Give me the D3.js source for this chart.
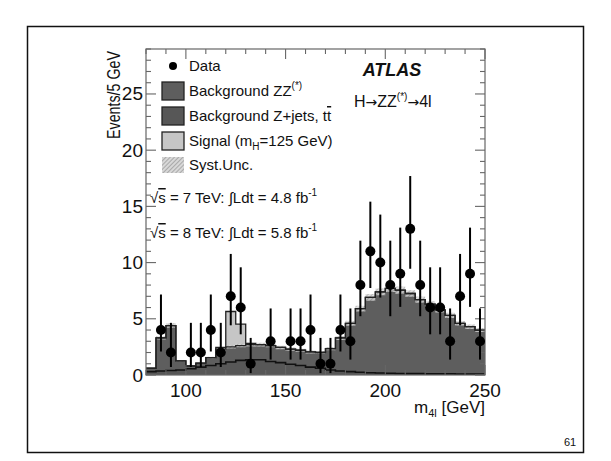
<!DOCTYPE html>
<html>
<head>
<meta charset="utf-8">
<script src="https://cdn.jsdelivr.net/npm/d3@7"></script>
<style>
  body { margin: 0; background: #fff; }
  text { font-family: "Liberation Sans", Arial, Helvetica, sans-serif; fill: #111; }
</style>
</head>
<body>
<script>
const width = 611
const height = 461
const binW = 5

// 5 GeV bin centres, 80-250 GeV
const massBins = [82.5, 87.5, 92.5, 97.5, 102.5, 107.5, 112.5, 117.5, 122.5, 127.5,
  132.5, 137.5, 142.5, 147.5, 152.5, 157.5, 162.5, 167.5, 172.5, 177.5,
  182.5, 187.5, 192.5, 197.5, 202.5, 207.5, 212.5, 217.5, 222.5, 227.5,
  232.5, 237.5, 242.5, 247.5]

// background Z+jets, ttbar (bottom of the stack)
const zjetsBkg = [0.3, 0.35, 0.4, 0.45, 0.55, 0.7, 0.85, 1.0, 1.15, 1.3,
  1.35, 1.35, 1.2, 1.1, 0.95, 0.85, 0.7, 0.6, 0.45, 0.35,
  0.3, 0.25, 0.2, 0.18, 0.15, 0.14, 0.12, 0.12, 0.1, 0.1,
  0.1, 0.08, 0.08, 0.08]

// background ZZ(*)
const zzBkg = [0.3, 2.95, 4.0, 0.8, 0.25, 0.35, 0.7, 1.3, 1.35, 1.32,
  1.35, 1.35, 1.42, 1.35, 1.35, 1.35, 1.35, 1.4, 1.9, 2.95,
  4.3, 5.65, 6.7, 7.22, 7.55, 7.41, 7.13, 6.58, 6.2, 5.7,
  5.2, 4.52, 4.22, 3.92]

// signal mH = 125 GeV
const signal = [0, 0, 0, 0, 0, 0, 0, 0.15, 3.15, 1.9,
  0.1, 0, 0, 0, 0, 0, 0, 0, 0, 0,
  0, 0, 0, 0, 0, 0, 0, 0, 0, 0,
  0, 0, 0, 0]

// systematic uncertainty on the total background
const bkgSyst = [0.05, 0.15, 0.2, 0.08, 0.05, 0.06, 0.08, 0.12, 0.15, 0.16,
  0.17, 0.17, 0.16, 0.15, 0.15, 0.14, 0.13, 0.13, 0.15, 0.18,
  0.22, 0.26, 0.3, 0.3, 0.32, 0.32, 0.3, 0.28, 0.26, 0.25,
  0.23, 0.2, 0.2, 0.18]

// data (bins with events only)
const dataMass = [87.5, 92.5, 102.5, 107.5, 112.5, 117.5, 122.5, 127.5, 132.5, 142.5,
  152.5, 157.5, 162.5, 167.5, 172.5, 177.5, 182.5, 187.5, 192.5, 197.5,
  202.5, 207.5, 212.5, 217.5, 222.5, 227.5, 232.5, 237.5, 242.5, 247.5]
const dataCounts = [4, 2, 2, 2, 4, 2, 7, 6, 1, 3,
  3, 3, 4, 1, 1, 4, 3, 8, 11, 10,
  8, 9, 13, 8, 6, 6, 3, 7, 9, 3]
const dataErrLow = [2.09, 0.71, 0.71, 0.71, 2.09, 0.71, 4.42, 3.62, 0.17, 1.37,
  1.37, 1.37, 2.09, 0.17, 0.17, 2.09, 1.37, 5.23, 7.74, 6.89,
  5.23, 6.06, 9.45, 5.23, 3.62, 3.62, 1.37, 4.42, 6.06, 1.37]
const dataErrHigh = [7.16, 4.64, 4.64, 4.64, 7.16, 4.64, 10.77, 9.58, 3.30, 5.92,
  5.92, 5.92, 7.16, 3.30, 3.30, 7.16, 5.92, 11.95, 15.42, 14.27,
  11.95, 13.11, 17.70, 11.95, 9.58, 9.58, 5.92, 10.77, 13.11, 5.92]

const xMajor = [100, 150, 200, 250]
const yMajor = [0, 5, 10, 15, 20, 25]

const plot = { left: 146, right: 485, top: 49, bottom: 375 }

const x = d3.scaleLinear().domain([80, 250]).range([plot.left, plot.right])
const y = d3.scaleLinear().domain([0, 29]).range([plot.bottom, plot.top])

const svg = d3.select("body").append("svg")
  .attr("width", width)
  .attr("height", height)

// slide frame
svg.append("rect")
  .attr("x", 27.5).attr("y", 26.5)
  .attr("width", 556).attr("height", 426)
  .attr("fill", "none").attr("stroke", "#111").attr("stroke-width", 1.5)

svg.append("text")
  .attr("x", 570).attr("y", 446)
  .attr("text-anchor", "middle")
  .attr("font-size", 11)
  .text("61")

const defs = svg.append("defs")
defs.append("clipPath").attr("id", "plot-clip")
  .append("rect")
  .attr("x", plot.left).attr("y", plot.top)
  .attr("width", plot.right - plot.left).attr("height", plot.bottom - plot.top)

const hatch = defs.append("pattern")
  .attr("id", "hatch")
  .attr("patternUnits", "userSpaceOnUse")
  .attr("width", 3).attr("height", 3)
  .attr("patternTransform", "rotate(45)")
hatch.append("rect").attr("width", 3).attr("height", 3).attr("fill", "#d8d8d8")
hatch.append("line")
  .attr("x1", 0).attr("y1", 0).attr("x2", 0).attr("y2", 3)
  .attr("stroke", "#8a8a8a").attr("stroke-width", 1.2)

// stacked bins
const stack = massBins.map((m, i) => {
  const zj = zjetsBkg[i]
  const tot = zj + zzBkg[i]
  return { x0: m - binW / 2, zj: zj, tot: tot, sig: tot + signal[i], syst: bkgSyst[i] }
})
const last = stack[stack.length - 1]
stack.push(Object.assign({}, last, { x0: 250 }))

const g = svg.append("g").attr("clip-path", "url(#plot-clip)")

const stepArea = (lo, hi) => d3.area().curve(d3.curveStepAfter)
  .x(d => x(d.x0)).y0(d => y(lo(d))).y1(d => y(hi(d)))
const stepLine = (v) => d3.line().curve(d3.curveStepAfter)
  .x(d => x(d.x0)).y(d => y(v(d)))

// signal on top
g.append("path").attr("d", stepArea(d => d.tot, d => d.sig)(stack))
  .attr("fill", "#c6c6c6")
// ZZ
g.append("path").attr("d", stepArea(d => d.zj, d => d.tot)(stack))
  .attr("fill", "#5e5e5e")
// Z+jets
g.append("path").attr("d", stepArea(d => 0, d => d.zj)(stack))
  .attr("fill", "#575757")
// syst band
g.append("path").attr("d", stepArea(d => d.tot - d.syst, d => d.tot + d.syst)(stack))
  .attr("fill", "url(#hatch)").attr("opacity", 0.8)

g.append("path").attr("d", stepLine(d => d.sig)(stack))
  .attr("fill", "none").attr("stroke", "#222").attr("stroke-width", 1.3)
g.append("path").attr("d", stepLine(d => d.tot)(stack))
  .attr("fill", "none").attr("stroke", "#222").attr("stroke-width", 1.3)
g.append("path").attr("d", stepLine(d => d.zj)(stack))
  .attr("fill", "none").attr("stroke", "#111").attr("stroke-width", 1.6)

// axes frame and ticks (ROOT style, inward on all four sides)
const axisColor = "#666"
svg.append("rect")
  .attr("x", plot.left).attr("y", plot.top)
  .attr("width", plot.right - plot.left).attr("height", plot.bottom - plot.top)
  .attr("fill", "none").attr("stroke", axisColor).attr("stroke-width", 1.2)

const yTicks = d3.range(0, 30)
const xTicks = d3.range(80, 251, 10)
const ticks = svg.append("g").attr("stroke", axisColor).attr("stroke-width", 1.1)
yTicks.forEach(v => {
  const len = v % 5 === 0 ? 10 : 5
  ticks.append("line").attr("x1", plot.left).attr("x2", plot.left + len)
    .attr("y1", y(v)).attr("y2", y(v))
  ticks.append("line").attr("x1", plot.right).attr("x2", plot.right - len)
    .attr("y1", y(v)).attr("y2", y(v))
})
xTicks.forEach(v => {
  const len = v % 50 === 0 ? 10 : 5
  ticks.append("line").attr("x1", x(v)).attr("x2", x(v))
    .attr("y1", plot.bottom).attr("y2", plot.bottom - len)
  ticks.append("line").attr("x1", x(v)).attr("x2", x(v))
    .attr("y1", plot.top).attr("y2", plot.top + len)
})

svg.append("g").selectAll("text")
  .data(yMajor).enter().append("text")
  .attr("x", plot.left - 3)
  .attr("y", d => y(d) + 6.5)
  .attr("text-anchor", "end")
  .attr("font-size", 19)
  .text(d => d)

svg.append("g").selectAll("text")
  .data(xMajor).enter().append("text")
  .attr("x", d => x(d))
  .attr("y", plot.bottom + 22)
  .attr("text-anchor", "middle")
  .attr("font-size", 19)
  .text(d => d)

// axis titles
svg.append("text")
  .attr("transform", "translate(120," + (plot.top + 2) + ") rotate(-90)")
  .attr("text-anchor", "end")
  .attr("font-size", 18)
  .attr("textLength", 88).attr("lengthAdjust", "spacingAndGlyphs")
  .text("Events/5 GeV")

const xTitle = svg.append("text")
  .attr("x", plot.right).attr("y", 413)
  .attr("text-anchor", "end")
  .attr("font-size", 17)
xTitle.append("tspan").text("m")
xTitle.append("tspan").attr("font-size", 11).attr("dy", 4).text("4l")
xTitle.append("tspan").attr("dy", -4).text(" [GeV]")

// data points
const dataG = svg.append("g").attr("clip-path", "url(#plot-clip)")
dataG.selectAll("line")
  .data(dataMass).enter().append("line")
  .attr("x1", d => x(d)).attr("x2", d => x(d))
  .attr("y1", (d, i) => y(dataErrLow[i]))
  .attr("y2", (d, i) => y(dataErrHigh[i]))
  .attr("stroke", "#000").attr("stroke-width", 2)
dataG.selectAll("circle")
  .data(dataMass).enter().append("circle")
  .attr("cx", d => x(d))
  .attr("cy", (d, i) => y(dataCounts[i]))
  .attr("r", 5)
  .attr("fill", "#000")

// legend
const leg = svg.append("g").attr("font-size", 15)
leg.append("circle").attr("cx", 173).attr("cy", 66).attr("r", 4).attr("fill", "#000")
leg.append("text").attr("x", 189).attr("y", 71).text("Data")

const boxes = [
  { y: 82, fill: "#5e5e5e" },
  { y: 107, fill: "#575757" },
  { y: 132, fill: "#c6c6c6" }
]
boxes.forEach(b => {
  leg.append("rect").attr("x", 162).attr("y", b.y).attr("width", 22).attr("height", 18)
    .attr("fill", b.fill).attr("stroke", "#222").attr("stroke-width", 1.3)
})
leg.append("rect").attr("x", 162).attr("y", 157).attr("width", 22).attr("height", 16)
  .attr("fill", "url(#hatch)")

const t1 = leg.append("text").attr("x", 189).attr("y", 96)
t1.append("tspan").text("Background ZZ")
t1.append("tspan").attr("font-size", 10).attr("dy", -7).text("(*)")

const t2 = leg.append("text").attr("x", 189).attr("y", 121)
t2.append("tspan").text("Background Z+jets, t")
t2.append("tspan").style("text-decoration", "overline").text("t")

const t3 = leg.append("text").attr("x", 189).attr("y", 146)
t3.append("tspan").text("Signal (m")
t3.append("tspan").attr("font-size", 10).attr("dy", 4).text("H")
t3.append("tspan").attr("dy", -4).text("=125 GeV)")

leg.append("text").attr("x", 189).attr("y", 170).text("Syst.Unc.")

// labels
svg.append("text")
  .attr("x", 392).attr("y", 76)
  .attr("text-anchor", "middle")
  .attr("font-size", 18).attr("font-weight", "bold").attr("font-style", "italic")
  .text("ATLAS")

const arrowFont = "'DejaVu Sans', sans-serif"
const chan = svg.append("text").attr("x", 354).attr("y", 107).attr("font-size", 16)
chan.append("tspan").text("H")
chan.append("tspan").style("font-family", arrowFont).attr("font-size", 14).text("\u2192")
chan.append("tspan").text("ZZ")
chan.append("tspan").attr("font-size", 10).attr("dy", -7).text("(*)")
chan.append("tspan").attr("dy", 7).style("font-family", arrowFont).attr("font-size", 14).text("\u2192")
chan.append("tspan").text("4l")

const lumi = [
  { y: 203, energy: "7", lumi: "4.8" },
  { y: 238, energy: "8", lumi: "5.8" }
]
lumi.forEach(l => {
  const t = svg.append("text").attr("x", 150).attr("y", l.y).attr("font-size", 15)
  t.append("tspan").text("\u221A")
  t.append("tspan").style("text-decoration", "overline").text("s")
  t.append("tspan").text(" = " + l.energy + " TeV: \u222BLdt = " + l.lumi + " fb")
  t.append("tspan").attr("font-size", 10).attr("dy", -7).text("-1")
})
</script>
</body>
</html>
